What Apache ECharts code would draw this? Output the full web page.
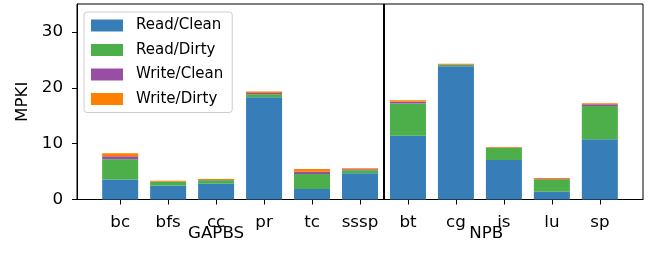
<!DOCTYPE html>
<html>
<head>
<meta charset="utf-8">
<script src="https://cdn.jsdelivr.net/npm/echarts@6/dist/echarts.min.js"></script>
<style>
html,body{margin:0;padding:0;background:#fff;}
#chart{width:651px;height:257px;}
</style>
</head>
<body>
<div id="chart"></div>
<script>
// ---- data ----
const categories = ['bc','bfs','cc','pr','tc','sssp','bt','cg','is','lu','sp'];
const readClean  = [3.6, 2.5, 2.8, 18.3, 1.9, 4.7, 11.4, 23.85, 7.05, 1.4, 10.8];
const readDirty  = [3.6, 0.65, 0.65, 0.55, 2.65, 0.55, 5.8, 0.25, 2.15, 2.2, 5.95];
const writeClean = [0.55, 0.05, 0.05, 0.2, 0.4, 0.15, 0.3, 0.05, 0.05, 0.05, 0.3];
const writeDirty = [0.55, 0.15, 0.15, 0.3, 0.5, 0.2, 0.25, 0.15, 0.15, 0.2, 0.2];
const seriesNames = ['Read/Clean','Read/Dirty','Write/Clean','Write/Dirty'];
const groupNames = ['GAPBS','NPB'];
const groupCenters = [2, 7.63];
const groupDivider = 5.5;
const yTicks = [0, 10, 20, 30];

const colors = ['#377eb8','#4daf4a','#984ea3','#ff7f00'];
const FONT = 'DejaVu Sans';
const idx = categories.map((_, i) => i);

const seriesData = [readClean, readDirty, writeClean, writeDirty];
const series = seriesData.map((arr, k) => ({
  name: seriesNames[k],
  type: 'bar',
  stack: 'total',
  barWidth: 36,
  itemStyle: { color: colors[k] },
  // column 0 = value (y), column 1 = position (x) so stacking happens on y
  encode: { x: 1, y: 0 },
  data: arr.map((v, i) => [v, i]),
  animation: false
}));
series[0].markLine = {
  silent: true,
  symbol: ['none','none'],
  label: { show: false },
  lineStyle: { color: '#000', width: 2, type: 'solid' },
  data: [{ xAxis: groupDivider }],
  animation: false
};

const chart = echarts.init(document.getElementById('chart'), null, { renderer: 'canvas' });
chart.setOption({
  animation: false,
  grid: { left: 77, right: 8, top: 4, bottom: 57.5, show: true, borderColor: '#000', borderWidth: 1, backgroundColor: 'transparent' },
  legend: {
    orient: 'vertical',
    left: 84, top: 12,
    itemWidth: 32, itemHeight: 12,
    itemGap: 7.5,
    padding: [5, 9, 5, 7],
    backgroundColor: 'rgba(255,255,255,0.8)',
    borderColor: '#cccccc', borderWidth: 1, borderRadius: 3,
    icon: 'rect',
    textStyle: { fontFamily: FONT, fontSize: 15, color: '#000', lineHeight: 17, padding: [0,0,0,8] },
    data: seriesNames
  },
  xAxis: [{
    type: 'value', min: -0.9, max: 10.9,
    splitLine: { show: false },
    axisLine: { show: true, onZero: false, lineStyle: { color: '#000', width: 1 } },
    axisTick: { show: true, customValues: idx, length: 5, lineStyle: { color: '#000', width: 1 } },
    axisLabel: { customValues: idx, margin: 15, fontFamily: FONT, fontSize: 16.7, color: '#000',
      formatter: v => categories[Math.round(v)] }
  }, {
    type: 'value', min: -0.9, max: 10.9, position: 'bottom', offset: 12,
    splitLine: { show: false },
    axisLine: { show: false, onZero: false }, axisTick: { show: false },
    axisLabel: { customValues: groupCenters, margin: 14, fontFamily: FONT, fontSize: 16.7, color: '#000',
      formatter: v => groupNames[groupCenters.indexOf(v)] }
  }],
  yAxis: {
    type: 'value', min: 0, max: 35, interval: 10,
    name: 'MPKI', nameLocation: 'middle', nameGap: 46, nameRotate: 90,
    nameTextStyle: { fontFamily: FONT, fontSize: 16.7, color: '#000' },
    splitLine: { show: false },
    axisLine: { show: true, onZero: false, lineStyle: { color: '#000', width: 1 } },
    axisTick: { show: true, length: 5, customValues: yTicks, lineStyle: { color: '#000', width: 1 } },
    axisLabel: { customValues: yTicks, margin: 14, fontFamily: FONT, fontSize: 16.7, color: '#000' }
  },
  series: series
});
</script>
</body>
</html>
